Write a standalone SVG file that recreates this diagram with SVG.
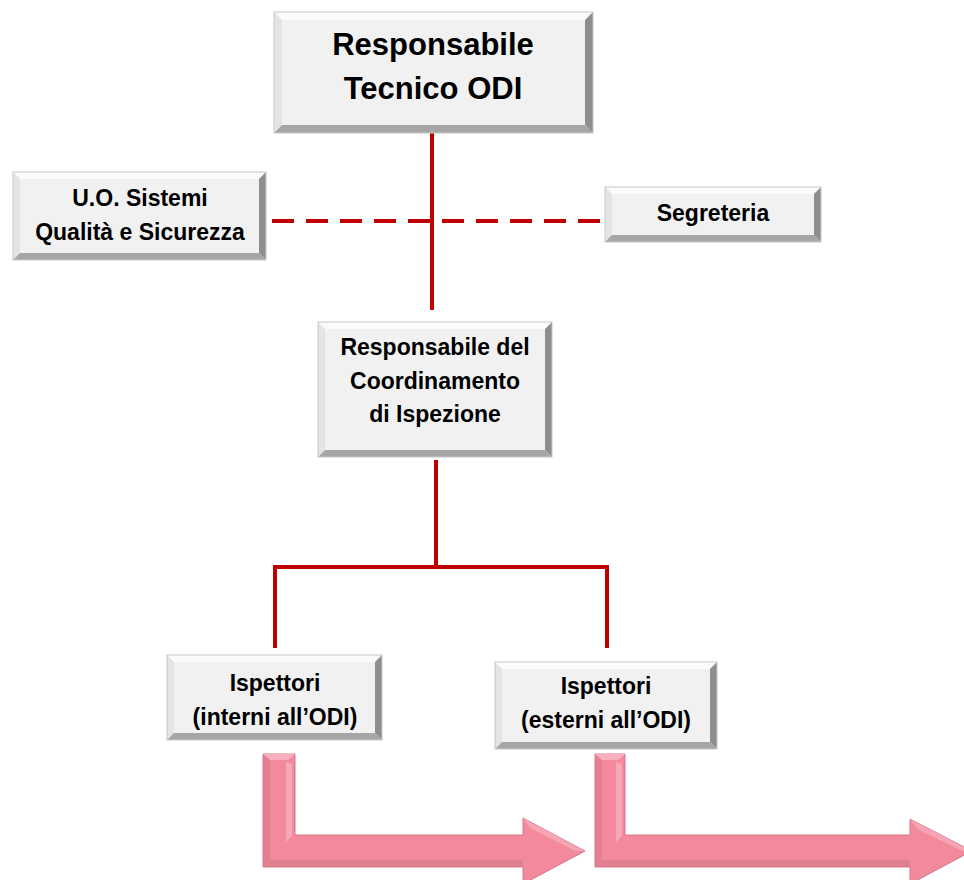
<svg xmlns="http://www.w3.org/2000/svg" width="964" height="880" viewBox="0 0 964 880">
<defs>
<style>
.face{fill:#F1F1F1}
.bt{fill:#FBFBFB}
.bl{fill:#E4E4E4}
.br{fill:#8E8E8E}
.bb{fill:#A6A6A6}
.edge{fill:none;stroke:#C8C8C8;stroke-width:1}
.t{font-family:"Liberation Sans",Arial,sans-serif;font-weight:bold;fill:#000;text-anchor:middle}
.big{font-size:31px}
.mid{font-size:23px}
.line{stroke:#C00000;stroke-width:4;fill:none}
.dash{stroke:#C00000;stroke-width:4;fill:none;stroke-dasharray:22 12}
.arrow{fill:#F2899C;stroke:#D47888;stroke-width:1}
.hl{fill:#F8B0BE}
.sh{fill:#D97A8B}
</style>
</defs>
<g id="connectors">
<line class="line" x1="432" y1="133" x2="432" y2="310"/>
<line class="dash" x1="272" y1="221" x2="605" y2="221"/>
<line class="line" x1="436" y1="460" x2="436" y2="567"/>
<polyline class="line" points="275,648 275,567 607,567 607,648"/>
</g>
<g id="node-top">
<rect class="face" x="274" y="12" width="319" height="121"/>
<polygon class="bt" points="274,12 593,12 585,20 282,20"/>
<polygon class="bl" points="274,12 282,20 282,125 274,133"/>
<polygon class="br" points="593,12 593,133 585,125 585,20"/>
<polygon class="bb" points="274,133 282,125 585,125 593,133"/>
<rect class="edge" x="274" y="12" width="319" height="121"/>
<text class="t big" x="433" y="55">Responsabile</text>
<text class="t big" x="433" y="99">Tecnico ODI</text>
</g>
<g id="node-uo">
<rect class="face" x="13" y="172" width="253" height="88"/>
<polygon class="bt" points="13,172 266,172 259,179 20,179"/>
<polygon class="bl" points="13,172 20,179 20,253 13,260"/>
<polygon class="br" points="266,172 266,260 259,253 259,179"/>
<polygon class="bb" points="13,260 20,253 259,253 266,260"/>
<rect class="edge" x="13" y="172" width="253" height="88"/>
<text class="t mid" x="140" y="206">U.O. Sistemi</text>
<text class="t mid" x="140" y="240">Qualità e Sicurezza</text>
</g>
<g id="node-segreteria">
<rect class="face" x="605" y="187" width="216" height="55"/>
<polygon class="bt" points="605,187 821,187 814,194 612,194"/>
<polygon class="bl" points="605,187 612,194 612,235 605,242"/>
<polygon class="br" points="821,187 821,242 814,235 814,194"/>
<polygon class="bb" points="605,242 612,235 814,235 821,242"/>
<rect class="edge" x="605" y="187" width="216" height="55"/>
<text class="t mid" x="713" y="221">Segreteria</text>
</g>
<g id="node-coordinamento">
<rect class="face" x="318" y="322" width="234" height="135"/>
<polygon class="bt" points="318,322 552,322 545,329 325,329"/>
<polygon class="bl" points="318,322 325,329 325,450 318,457"/>
<polygon class="br" points="552,322 552,457 545,450 545,329"/>
<polygon class="bb" points="318,457 325,450 545,450 552,457"/>
<rect class="edge" x="318" y="322" width="234" height="135"/>
<text class="t mid" x="435" y="355">Responsabile del</text>
<text class="t mid" x="435" y="389">Coordinamento</text>
<text class="t mid" x="435" y="422">di Ispezione</text>
</g>
<g id="node-interni">
<rect class="face" x="167" y="655" width="215" height="85"/>
<polygon class="bt" points="167,655 382,655 375,662 174,662"/>
<polygon class="bl" points="167,655 174,662 174,733 167,740"/>
<polygon class="br" points="382,655 382,740 375,733 375,662"/>
<polygon class="bb" points="167,740 174,733 375,733 382,740"/>
<rect class="edge" x="167" y="655" width="215" height="85"/>
<text class="t mid" x="275" y="691">Ispettori</text>
<text class="t mid" x="275" y="725">(interni all’ODI)</text>
</g>
<g id="node-esterni">
<rect class="face" x="495" y="662" width="222" height="87"/>
<polygon class="bt" points="495,662 717,662 710,669 502,669"/>
<polygon class="bl" points="495,662 502,669 502,742 495,749"/>
<polygon class="br" points="717,662 717,749 710,742 710,669"/>
<polygon class="bb" points="495,749 502,742 710,742 717,749"/>
<rect class="edge" x="495" y="662" width="222" height="87"/>
<text class="t mid" x="606" y="694">Ispettori</text>
<text class="t mid" x="606" y="728">(esterni all’ODI)</text>
</g>
<g id="arrow-1">
<path class="arrow" d="M263,754 H295 V835 H523 V818 L585,851 L523,884 V867 H263 Z"/>
<polygon class="hl" points="263,754 295,754 288,760 270,760"/>
<polygon class="hl" points="286,762 292,764 292,836 286,842" opacity="0.8"/>
<polygon class="sh" points="263,754 270,760 270,860 263,867" opacity="0.6"/>
<polygon class="sh" points="263,867 270,860 523,860 523,867" opacity="0.7"/>
<polygon class="hl" points="523,818 585,851 575,851 530,828" opacity="0.7"/>
</g>
<g id="arrow-2">
<path class="arrow" d="M595,754 H625 V835 H910 V819 L972,851 L910,884 V867 H595 Z"/>
<polygon class="hl" points="595,754 625,754 618,760 602,760"/>
<polygon class="hl" points="616,762 622,764 622,836 616,842" opacity="0.8"/>
<polygon class="sh" points="595,754 602,760 602,860 595,867" opacity="0.6"/>
<polygon class="sh" points="595,867 602,860 910,860 910,867" opacity="0.7"/>
<polygon class="hl" points="910,819 972,851 962,851 917,829" opacity="0.7"/>
</g>
</svg>
